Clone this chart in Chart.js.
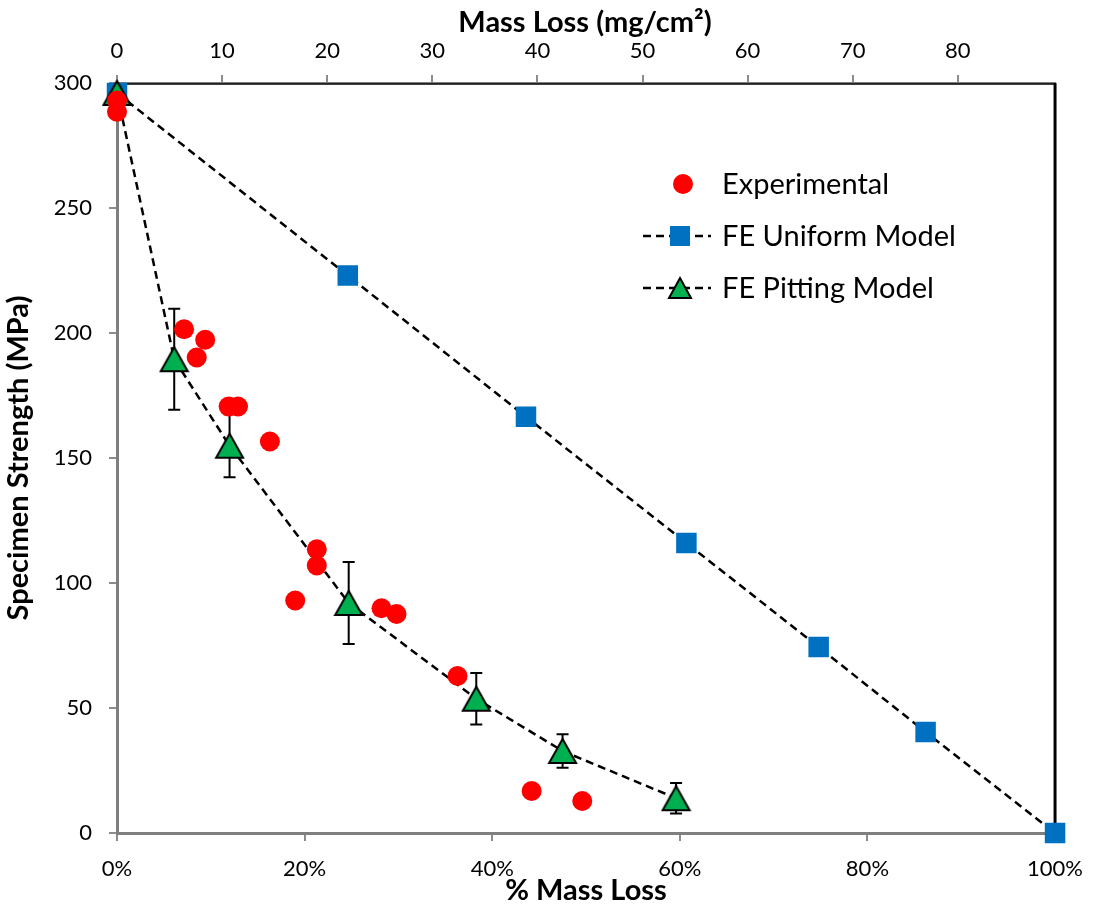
<!DOCTYPE html>
<html>
<head>
<meta charset="utf-8">
<title>Specimen Strength vs Mass Loss</title>
<script src="https://cdn.jsdelivr.net/npm/chart.js@4"></script>
<style>
  html, body { margin: 0; padding: 0; background: #ffffff; }
  canvas { display: block; }
</style>
</head>
<body>
<canvas id="c" width="1098" height="905"></canvas>
<script>
// Experimental specimens: % mass loss and measured strength (MPa)
const expLoss     = [0, 0, 7.15, 9.4, 8.5, 11.9, 12.9, 16.3, 21.3, 21.3, 19.0, 28.2, 29.8, 36.3, 44.2, 49.6];
const expStrength = [293, 288.5, 201.5, 197.3, 190.2, 170.6, 170.6, 156.6, 113.5, 107.0, 93.0, 89.9, 87.6, 62.8, 16.8, 12.8];

// FE model with uniform corrosion
const uniLoss     = [0, 24.6, 43.6, 60.7, 74.8, 86.2, 100];
const uniStrength = [296, 223, 166.5, 116, 74.4, 40.4, 0];

// FE model with pitting corrosion (mean and +/- spread)
const pitLoss     = [0, 6.1, 12.0, 24.7, 38.3, 47.5, 59.6];
const pitStrength = [296, 189.5, 154.9, 92.0, 53.7, 32.8, 13.9];
const pitSpread   = [0, 20.2, 12.6, 16.4, 10.3, 6.7, 6.1];

// Axis ranges and labels
const pctMax = 100;          // % mass loss
const massMax = 89.25;       // mg/cm^2 equivalent of 100 % mass loss
const strengthMax = 300;
const seriesNames = ['Experimental', 'FE Uniform Model', 'FE Pitting Model'];
const axisTitles = { top: 'Mass Loss (mg/cm\u00B2)', bottom: '% Mass Loss', left: 'Specimen Strength (MPa)' };

const FONT = 'Lato, "Open Sans", sans-serif';
const RED = '#FF0000', BLUE = '#0070C0', GREEN = '#00B050';
const DASH = [8, 5];

const toPoints = (xs, ys) => xs.map((x, i) => ({ x, y: ys[i] }));

// outlined triangle marker, centred on its bounding box
function triangleMarker(w, h, lw) {
  const c = document.createElement('canvas');
  c.width = w + 2 * lw;
  c.height = h + 2 * lw;
  const g = c.getContext('2d');
  g.fillStyle = GREEN;
  g.strokeStyle = '#000000';
  g.lineWidth = lw;
  g.lineJoin = 'miter';
  g.beginPath();
  g.moveTo(c.width / 2, lw);
  g.lineTo(c.width - lw, lw + h);
  g.lineTo(lw, lw + h);
  g.closePath();
  g.fill();
  g.stroke();
  return c;
}
const pitMarker = triangleMarker(27, 24, 2);

// white page background and plot frame
const framePlugin = {
  id: 'frame',
  beforeDraw(chart) {
    const ctx = chart.ctx;
    ctx.save();
    ctx.fillStyle = '#ffffff';
    ctx.fillRect(0, 0, chart.width, chart.height);
    ctx.restore();
  },
  beforeDatasetsDraw(chart) {
    const { ctx, chartArea: a } = chart;
    ctx.save();
    ctx.strokeStyle = '#000000';
    ctx.lineWidth = 3;
    ctx.beginPath();
    ctx.moveTo(a.right, a.top);
    ctx.lineTo(a.right, a.bottom);
    ctx.stroke();
    ctx.lineWidth = 1.5;
    ctx.beginPath();
    ctx.moveTo(a.left, a.top + 1);
    ctx.lineTo(a.right, a.top + 1);
    ctx.stroke();
    ctx.restore();
  }
};

// vertical spread bars for the pitting model, drawn beneath its markers
const errorBarPlugin = {
  id: 'errorBars',
  beforeDatasetDraw(chart, args) {
    const ds = chart.data.datasets[args.index];
    if (!ds.spread) return;
    const { ctx } = chart;
    const xs = chart.scales.x, ys = chart.scales.y;
    ctx.save();
    ctx.strokeStyle = '#000000';
    ctx.lineWidth = 2;
    ds.data.forEach((p, i) => {
      const e = ds.spread[i];
      if (!e) return;
      const px = xs.getPixelForValue(p.x);
      const top = ys.getPixelForValue(p.y + e);
      const bot = ys.getPixelForValue(p.y - e);
      ctx.beginPath();
      ctx.moveTo(px, top); ctx.lineTo(px, bot);
      ctx.moveTo(px - 6, top); ctx.lineTo(px + 6, top);
      ctx.moveTo(px - 6, bot); ctx.lineTo(px + 6, bot);
      ctx.stroke();
    });
    ctx.restore();
  }
};

// axis titles and in-plot legend
const annotatePlugin = {
  id: 'annotate',
  afterDraw(chart) {
    const { ctx, chartArea: a } = chart;
    ctx.save();
    ctx.fillStyle = '#000000';
    ctx.font = 'bold 29px ' + FONT;
    ctx.textAlign = 'center';
    ctx.textBaseline = 'alphabetic';
    ctx.fillText(axisTitles.top, 585, 32);
    ctx.fillText(axisTitles.bottom, (a.left + a.right) / 2, 900);
    ctx.save();
    ctx.translate(28, (a.top + a.bottom) / 2);
    ctx.rotate(-Math.PI / 2);
    ctx.fillText(axisTitles.left, 0, 0);
    ctx.restore();

    // legend
    const mx = 680, tx = 722, rows = [184, 236, 288];
    ctx.font = '29px ' + FONT;
    ctx.textAlign = 'left';
    ctx.textBaseline = 'middle';
    rows.forEach((ry, i) => {
      if (i > 0) {
        ctx.save();
        ctx.strokeStyle = '#000000';
        ctx.lineWidth = 2.5;
        ctx.setLineDash(DASH);
        ctx.beginPath();
        ctx.moveTo(643, ry); ctx.lineTo(711, ry);
        ctx.stroke();
        ctx.restore();
      }
      ctx.beginPath();
      if (i === 0) {
        ctx.fillStyle = RED;
        ctx.arc(mx + 3, ry, 10, 0, Math.PI * 2);
        ctx.fill();
      } else if (i === 1) {
        ctx.fillStyle = BLUE;
        ctx.fillRect(mx - 10, ry - 10, 20, 20);
      } else {
        ctx.fillStyle = GREEN;
        ctx.strokeStyle = '#000000';
        ctx.lineWidth = 2;
        ctx.moveTo(mx, ry - 10);
        ctx.lineTo(mx + 11, ry + 10);
        ctx.lineTo(mx - 11, ry + 10);
        ctx.closePath();
        ctx.fill();
        ctx.stroke();
      }
      ctx.fillStyle = '#000000';
      ctx.fillText(seriesNames[i], tx, ry + 1);
    });
    ctx.restore();
  }
};

const tickFont = { family: FONT, size: 22 };
const tickMarks = { drawOnChartArea: false, drawTicks: true, tickLength: 8, color: '#8c8c8c', lineWidth: 2 };

new Chart(document.getElementById('c'), {
  type: 'scatter',
  data: {
    datasets: [
      {
        label: seriesNames[0],
        data: toPoints(expLoss, expStrength),
        showLine: false,
        clip: false,
        pointStyle: 'circle',
        pointRadius: 10,
        pointBackgroundColor: RED,
        pointBorderWidth: 0,
        order: 1
      },
      {
        label: seriesNames[2],
        data: toPoints(pitLoss, pitStrength),
        spread: pitSpread,
        showLine: true,
        clip: false,
        borderColor: '#000000',
        borderWidth: 2.5,
        borderDash: DASH,
        pointStyle: pitMarker,
        pointRadius: 15,
        order: 2
      },
      {
        label: seriesNames[1],
        data: toPoints(uniLoss, uniStrength),
        showLine: true,
        clip: false,
        borderColor: '#000000',
        borderWidth: 2.5,
        borderDash: DASH,
        pointStyle: 'rect',
        pointRadius: 14.5,
        pointBackgroundColor: BLUE,
        pointBorderWidth: 0,
        order: 3
      }
    ]
  },
  options: {
    responsive: false,
    animation: false,
    devicePixelRatio: 1,
    layout: { padding: { left: 0, right: 38, top: 0, bottom: 0 } },
    plugins: { legend: { display: false }, tooltip: { enabled: false } },
    scales: {
      x: {
        type: 'linear', position: 'bottom', min: 0, max: pctMax,
        ticks: { stepSize: 20, color: '#000', font: tickFont, padding: 15, callback: v => v + '%' },
        grid: tickMarks,
        border: { display: true, color: '#7f7f7f', width: 3 },
        afterFit: s => { s.height = 72; }
      },
      x2: {
        type: 'linear', position: 'top', min: 0, max: massMax,
        ticks: { stepSize: 10, includeBounds: false, color: '#000', font: tickFont, padding: 11 },
        grid: tickMarks,
        border: { display: true, color: '#7f7f7f', width: 2 },
        afterFit: s => { s.height = 83; }
      },
      y: {
        type: 'linear', position: 'left', min: 0, max: strengthMax,
        ticks: { stepSize: 50, color: '#000', font: tickFont, padding: 17 },
        grid: tickMarks,
        border: { display: true, color: '#7f7f7f', width: 3 },
        afterFit: s => { s.width = 117; }
      }
    }
  },
  plugins: [framePlugin, errorBarPlugin, annotatePlugin]
});
</script>
</body>
</html>
